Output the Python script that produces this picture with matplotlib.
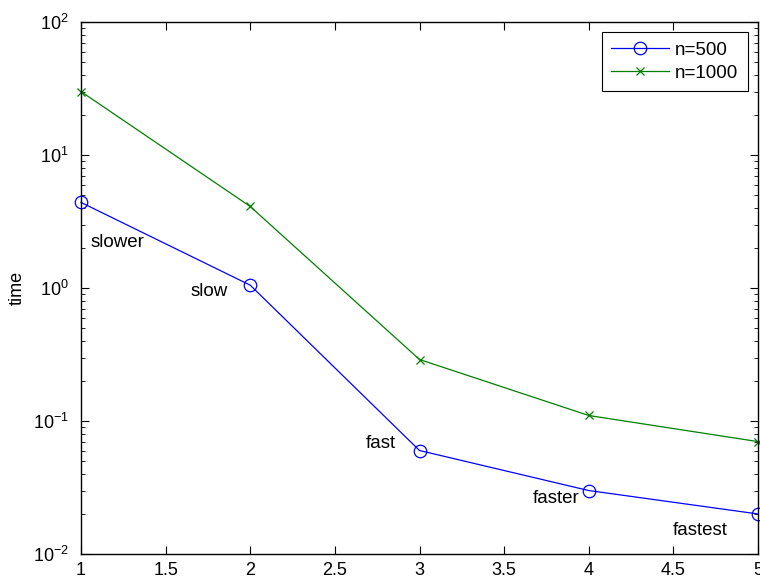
import matplotlib
matplotlib.use("Agg")
import matplotlib.pyplot as plt
from matplotlib.ticker import LogLocator, NullFormatter

plt.rcParams['font.family'] = ['Liberation Sans', 'DejaVu Sans']

x = [1, 2, 3, 4, 5]
n500 = [4.4, 1.05, 0.06, 0.03, 0.02]
n1000 = [30, 4.1, 0.29, 0.11, 0.07]
labels = ['slower', 'slow', 'fast', 'faster', 'fastest']
label_offsets = [(10, -40, 'left'), (-22, -6, 'right'), (-24, 7, 'right'),
                 (-9, -8, 'right'), (-30, -17, 'right')]
xticks = [1, 1.5, 2, 2.5, 3, 3.5, 4, 4.5, 5]
xticklabels = ['1', '1.5', '2', '2.5', '3', '3.5', '4', '4.5', '5']

fig = plt.figure(figsize=(7.6, 5.81), dpi=100)
ax = fig.add_axes([81/760, 27/581, (758-81)/760, (554-22)/581])

ax.plot(x, n500, color=(0, 0, 1), marker='o', markersize=9, markerfacecolor='none',
        markeredgecolor=(0, 0, 1), markeredgewidth=0.9, linewidth=0.9,
        label='n=500', clip_on=False)
ax.plot(x, n1000, color=(0, 0.5, 0), marker='x', markersize=6, markeredgewidth=0.9,
        linewidth=0.9, label='n=1000', clip_on=False)

for xi, yi, lab, (dx, dy, ha) in zip(x, n500, labels, label_offsets):
    ax.annotate(lab, (xi, yi), xytext=(dx, dy), textcoords='offset pixels',
                ha=ha, va='center', fontsize=13.5)

ax.set_yscale('log')
ax.set_xlim(1, 5)
ax.set_ylim(1e-2, 1e2)
ax.set_xticks(xticks)
ax.set_xticklabels(xticklabels)
ax.yaxis.set_minor_locator(LogLocator(base=10, subs=range(2, 10)))
ax.yaxis.set_minor_formatter(NullFormatter())
ax.tick_params(which='both', direction='in', top=True, right=True, labelsize=13)
ax.tick_params(axis='y', which='major', pad=9)
ax.tick_params(axis='x', which='major', pad=6)
ax.tick_params(which='major', length=6, width=0.8)
ax.tick_params(which='minor', length=3, width=0.6)
ax.set_ylabel('time', fontsize=13, labelpad=5)
for s in ax.spines.values():
    s.set_linewidth(1.0)

leg = ax.legend(loc='upper right', fontsize=13.5, fancybox=False, framealpha=1,
                edgecolor='black', handlelength=3.1, handletextpad=0.3,
                borderaxespad=0.55, borderpad=0.5, labelspacing=0.3)
leg.get_frame().set_linewidth(0.8)

fig.savefig('out.png', dpi=100)
